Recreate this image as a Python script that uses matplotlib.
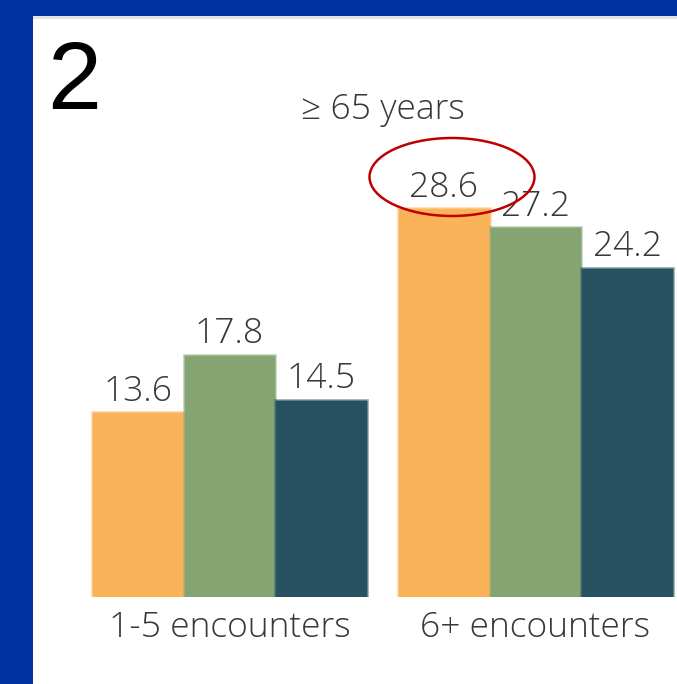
import matplotlib
matplotlib.use("Agg")
import matplotlib.pyplot as plt
from matplotlib.patches import Rectangle, Ellipse
import numpy as np

categories = ["1-5 encounters", "6+ encounters"]
series_a = [13.6, 28.6]
series_b = [17.8, 27.2]
series_c = [14.5, 24.2]
title = "\u2265 65 years"
panel_label = "2"

colors = ["#FBB35A", "#84A472", "#265160"]

W, H = 677, 684
fig = plt.figure(figsize=(W / 100, H / 100), dpi=100)
fig.patch.set_facecolor("#0033A0")

def fx(px):
    return px / W

def fy(py):
    return 1 - py / H

# white panel
fig.patches.append(Rectangle((fx(33), 0), 1 - fx(33), fy(17), transform=fig.transFigure,
                             facecolor="white", edgecolor="none", zorder=-2))
fig.patches.append(Rectangle((fx(33), fy(19)), 1 - fx(33), fy(16) - fy(19), transform=fig.transFigure,
                             facecolor="#E3E3E3", edgecolor="none", zorder=-1))

ax = fig.add_axes([fx(33), fy(597), 1 - fx(33), fy(17) - fy(597)])
ax.set_zorder(2)
ax.set_facecolor("none")
ppu = 13.6
gsp = 306.0
cx0 = 229.5
ax.set_ylim(0, (597 - 17) / ppu)
ax.set_xlim((33 - cx0) / gsp, (677 - cx0) / gsp)

x = np.arange(len(categories))
bw = 91.7 / gsp
font = "Open Sans"
txtcol = "#383838"
fs = 25.5
for i, (vals, c) in enumerate(zip([series_a, series_b, series_c], colors)):
    bars = ax.bar(x + (i - 1) * bw, vals, width=bw, color=c,
                  edgecolor=matplotlib.colors.to_rgba(c, 0.45), linewidth=2.0)
    ax.bar_label(bars, labels=[f"{v:.1f}" for v in vals], padding=2.5,
                 fontsize=fs, color=txtcol, family=font, fontweight="light")

for s in ax.spines.values():
    s.set_visible(False)
ax.set_yticks([])
ax.set_xticks(x)
ax.set_xticklabels(categories, fontsize=fs, color=txtcol, family=font, fontweight="light")
ax.tick_params(axis="x", length=0, pad=9.5)

ax.text((383 - cx0) / gsp, (597 - 110) / ppu, title, ha="center", va="center",
        fontsize=fs, color=txtcol, family=font, fontweight="light")

ax.add_patch(Ellipse(((452 - cx0) / gsp, (597 - 177) / ppu), 165 / gsp, 78 / ppu,
                     facecolor="none", edgecolor="#C00000", linewidth=1.8, zorder=5))

fig.text(fx(47), fy(109), panel_label, ha="left", va="baseline", fontsize=70,
         color="black", family="Liberation Sans", zorder=3)

fig.savefig("out.png", dpi=100, facecolor=fig.get_facecolor())
